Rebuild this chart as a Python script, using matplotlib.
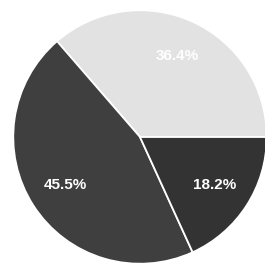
import matplotlib

matplotlib.use("Agg")
import matplotlib.pyplot as plt

# Slice data (counter-clockwise from 3 o'clock)
labels = ["A", "B", "C"]
shares = [36.4, 45.5, 18.2]
colors = ["#e2e2e2", "#3f3f3f", "#333333"]

fig = plt.figure(figsize=(2.65, 2.72), dpi=100)
fig.patch.set_facecolor("white")
ax = fig.add_axes([12 / 265, 7 / 272, 256 / 265, 256 / 272])

wedges, texts, autotexts = ax.pie(
    shares,
    colors=colors,
    startangle=0,
    counterclock=True,
    autopct="%.1f%%",
    pctdistance=0.7,
    wedgeprops={"edgecolor": "white", "linewidth": 1.3},
    textprops={"color": "white", "fontsize": 11, "fontweight": "bold",
               "family": "Liberation Sans"},
)
ax.set_xlim(-1.01, 1.01)
ax.set_ylim(-1.01, 1.01)
ax.set_aspect("auto")
ax.axis("off")

fig.savefig("out.png", dpi=100, facecolor="white")
